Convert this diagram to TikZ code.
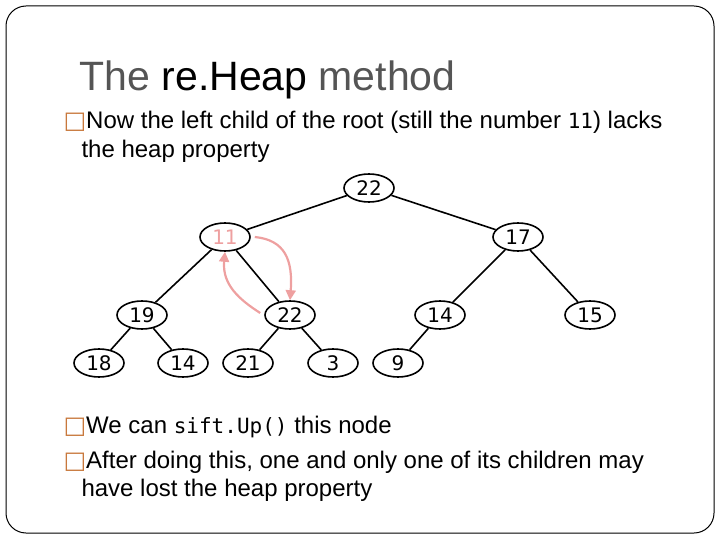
\documentclass[tikz,border=0pt]{standalone}
\usepackage{fontspec}
\setmainfont{Liberation Sans}
\newfontfamily\numfont{DejaVu Sans}
\newfontfamily\codefont{DejaVu Sans Mono}
\usetikzlibrary{arrows.meta,shapes.geometric}
\definecolor{salmon}{RGB}{238,160,160}
\definecolor{bulletc}{RGB}{200,120,60}
\definecolor{titlec}{RGB}{85,85,85}
\tikzset{
  heapnode/.style={draw, ellipse, line width=1.6pt, fill=white, minimum width=50pt,
    minimum height=28pt, inner sep=0pt, font=\numfont\fontsize{20}{20}\selectfont},
  heapedge/.style={line width=1.6pt},
  swaparrow/.style={salmon, line width=2.2pt, -{Triangle[length=10pt,width=10pt]}},
  bullettext/.style={anchor=west, font=\fontsize{24}{28}\selectfont, align=left}
}
\begin{document}
\begin{tikzpicture}[x=1pt,y=-1pt]
  \useasboundingbox (0,0) rectangle (720,540);
  \draw[line width=1pt, rounded corners=20pt] (6,6) rectangle (714,533);
  \node[anchor=west, font=\fontsize{41}{41}\selectfont, titlec] (title) at (76,80)
    {The \textcolor{black}{re.Heap} method};
  % bullets
  \node[bullettext] (b1) at (60,122) {\textcolor{bulletc}{\numfont □}Now the left child of the root (still the number {\codefont\fontsize{21}{24}\selectfont 11}) lacks};
  \node[bullettext] (b1b) at (78,151) {the heap property};
  \node[bullettext] (b2) at (60,427) {\textcolor{bulletc}{\numfont □}We can {\codefont\fontsize{21}{24}\selectfont sift.Up()} this node};
  \node[bullettext] (b3) at (60,462) {\textcolor{bulletc}{\numfont □}After doing this, one and only one of its children may};
  \node[bullettext] (b3b) at (78,490) {have lost the heap property};
  % tree
  \node[heapnode] (r) at (369,188) {22};
  \node[heapnode, text=salmon] (a) at (225,237) {11};
  \node[heapnode] (b) at (518,237) {17};
  \node[heapnode] (aa) at (142,315) {19};
  \node[heapnode] (ab) at (290,315) {22};
  \node[heapnode] (ba) at (440,315) {14};
  \node[heapnode] (bb) at (590,315) {15};
  \node[heapnode] (aaa) at (99,363) {18};
  \node[heapnode] (aab) at (183,363) {14};
  \node[heapnode] (aba) at (248,363) {21};
  \node[heapnode] (abb) at (333,363) {3};
  \node[heapnode] (baa) at (398,363) {9};
  \foreach \p/\c in {r/a, r/b, a/aa, a/ab, b/ba, b/bb, aa/aaa, aa/aab, ab/aba, ab/abb, ba/baa}
    \draw[heapedge] (\p) -- (\c);
  \draw[swaparrow] (a.east) ++(4,0) .. controls (285,240) and (293,260) .. (ab.north);
  \draw[swaparrow] (ab.west) ++(-4,-2) .. controls (240,300) and (222,285) .. (a.south);
\end{tikzpicture}
\end{document}
